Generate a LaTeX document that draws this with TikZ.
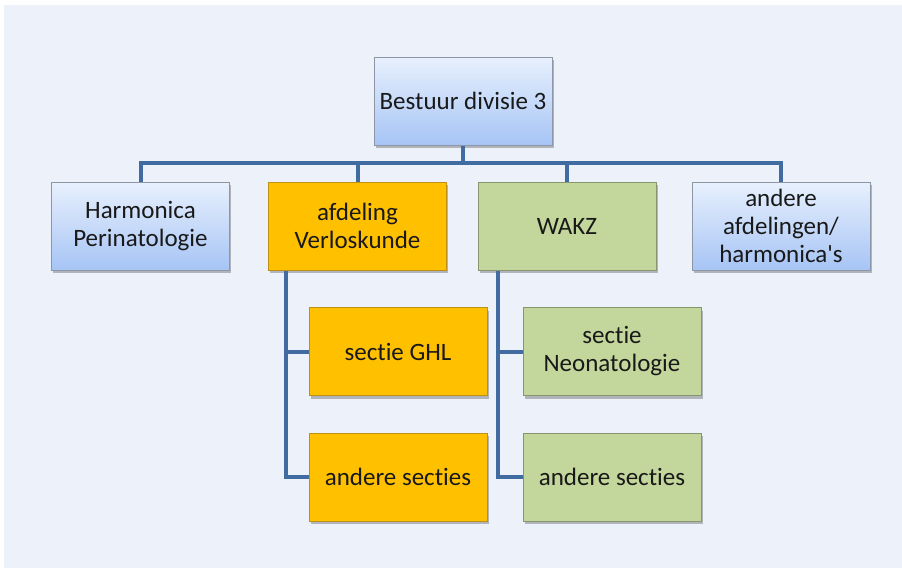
\documentclass[tikz,border=0pt]{standalone}
\usepackage{fontspec}
\setmainfont{Carlito}[Ligatures=NoCommon]
\usetikzlibrary{shadows}
\definecolor{panel}{RGB}{237,241,250}
\definecolor{blueTop}{RGB}{232,240,253}
\definecolor{blueBot}{RGB}{166,196,245}
\definecolor{blueBorder}{RGB}{140,150,165}
\definecolor{orangeFill}{RGB}{255,192,0}
\definecolor{orangeBorder}{RGB}{190,145,20}
\definecolor{greenFill}{RGB}{195,214,155}
\definecolor{greenBorder}{RGB}{135,150,110}
\definecolor{lineBlue}{RGB}{65,108,162}
\tikzset{
  box/.style={draw, line width=1pt, minimum width=178pt, minimum height=88pt, align=center,
    font=\fontsize{25}{28}\selectfont, text=black!90, inner sep=0pt,
    drop shadow={shadow xshift=1.5pt, shadow yshift=-3pt, opacity=0.25, fill=black}},
  bluebox/.style={box, draw=blueBorder, top color=blueTop, bottom color=blueBot},
  orangebox/.style={box, draw=orangeBorder, fill=orangeFill},
  greenbox/.style={box, draw=greenBorder, fill=greenFill},
  conn/.style={draw=lineBlue, line width=4pt}
}
\begin{document}
\begin{tikzpicture}[x=1pt, y=-1pt]
\useasboundingbox[fill=white] (0,0) rectangle (902,568);
\fill[panel] (4,5) rectangle (902,568);
\coordinate (bar) at (0,163);
\node[bluebox] (top) at (463,101) {Bestuur divisie 3};
\node[bluebox] (harm) at (140.5,226) {Harmonica\\Perinatologie};
\node[orangebox] (verl) at (357.5,226) {afdeling\\Verloskunde};
\node[greenbox] (wakz) at (567,226) {WAKZ};
\node[bluebox] (andaf) at (781,226) {andere\\afdelingen/\\harmonica\textquotesingle s};
\node[orangebox] (ghl) at (398,351.5) {sectie GHL};
\node[orangebox] (andso) at (398,477) {andere secties};
\node[greenbox] (neo) at (612,351.5) {sectie\\Neonatologie};
\node[greenbox] (andsg) at (612,477) {andere secties};
\draw[conn] (top.south) -- (top.south |- bar);
\draw[conn, line cap=rect] (harm.north |- bar) -- (andaf.north |- bar);
\draw[conn] (harm.north |- bar) -- (harm.north);
\draw[conn] (verl.north |- bar) -- (verl.north);
\draw[conn] (wakz.north |- bar) -- (wakz.north);
\draw[conn] (andaf.north |- bar) -- (andaf.north);
\coordinate (vx) at (285.5,0);
\coordinate (wx) at (497.5,0);
\draw[conn, line join=miter] (vx |- verl.south) -- (vx |- andso.west) -- (andso.west);
\draw[conn] (vx |- ghl.west) -- (ghl.west);
\draw[conn, line join=miter] (wx |- wakz.south) -- (wx |- andsg.west) -- (andsg.west);
\draw[conn] (wx |- neo.west) -- (neo.west);
\end{tikzpicture}
\end{document}
